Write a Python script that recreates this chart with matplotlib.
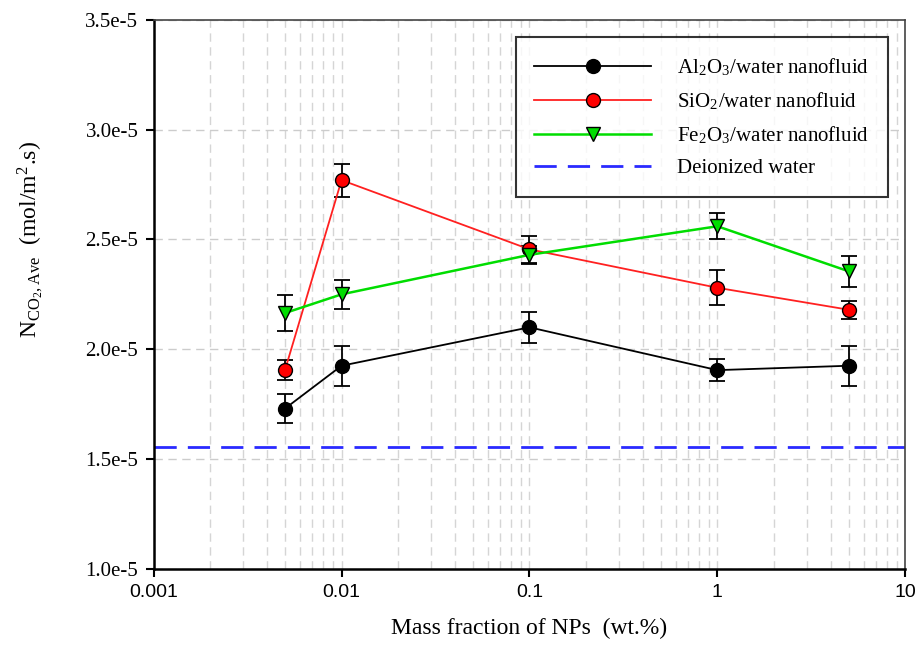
import numpy as np
import matplotlib
matplotlib.use("Agg")
import matplotlib.pyplot as plt
from matplotlib.lines import Line2D
from matplotlib.ticker import FixedLocator, LogLocator, NullFormatter

plt.rcParams['font.family'] = ['Liberation Serif', 'DejaVu Serif']
plt.rcParams['mathtext.fontset'] = 'stix'

mass_frac = [0.005, 0.01, 0.1, 1, 5]

al2o3 = [1.73e-5, 1.925e-5, 2.10e-5, 1.905e-5, 1.925e-5]
al2o3_err = [0.065e-5, 0.09e-5, 0.07e-5, 0.05e-5, 0.09e-5]

sio2 = [1.905e-5, 2.77e-5, 2.455e-5, 2.28e-5, 2.18e-5]
sio2_err = [0.045e-5, 0.075e-5, 0.06e-5, 0.08e-5, 0.04e-5]

fe2o3 = [2.165e-5, 2.25e-5, 2.43e-5, 2.56e-5, 2.355e-5]
fe2o3_err = [0.08e-5, 0.065e-5, 0.04e-5, 0.06e-5, 0.07e-5]

water = 1.556e-5

labels = [r'Al$_\mathregular{2}$O$_\mathregular{3}$/water nanofluid',
          r'SiO$_\mathregular{2}$/water nanofluid',
          r'Fe$_\mathregular{2}$O$_\mathregular{3}$/water nanofluid',
          'Deionized water']

fig = plt.figure(figsize=(9.2, 6.6), dpi=100)
ax = fig.add_axes([0.167, 0.138, 0.817, 0.832])

ax.errorbar(mass_frac, al2o3, yerr=al2o3_err, color='black', lw=1.3, marker='o',
            ms=10, mfc='black', mec='black', ecolor='black', capsize=6, elinewidth=1.3,
            capthick=1.3, zorder=3)
ax.errorbar(mass_frac, sio2, yerr=sio2_err, color='#ff2020', lw=1.3, marker='o',
            ms=10, mfc='#ff0000', mec='black', ecolor='black', capsize=6, elinewidth=1.3,
            capthick=1.3, zorder=3)
ax.errorbar(mass_frac, fe2o3, yerr=fe2o3_err, color='#00dd00', lw=1.8, marker='v',
            ms=10, mfc='#00dd00', mec='black', ecolor='black', capsize=6, elinewidth=1.3,
            capthick=1.3, zorder=3)
ax.axhline(water, color='#2a2aff', lw=2, dashes=(8, 4), zorder=2)

ax.set_xscale('log')
ax.set_xlim(0.001, 10)
ax.set_ylim(1.0e-5, 3.5e-5)

yt = [1.0e-5, 1.5e-5, 2.0e-5, 2.5e-5, 3.0e-5, 3.5e-5]
ax.yaxis.set_major_locator(FixedLocator(yt))
ax.set_yticklabels(['%.1fe-5' % (v * 1e5) for v in yt], fontsize=15)
ax.set_xticks([0.001, 0.01, 0.1, 1, 10])
ax.set_xticklabels(['0.001', '0.01', '0.1', '1', '10'], family='Liberation Sans', fontsize=14)
ax.xaxis.set_minor_locator(LogLocator(base=10, subs=np.arange(2, 10)))
ax.xaxis.set_minor_formatter(NullFormatter())

ax.grid(True, which='major', axis='y', color='#cccccc', ls=(0, (6, 4)), lw=1)
ax.grid(True, which='both', axis='x', color='#d5d5d5', ls=(0, (6, 4)), lw=1)
ax.set_axisbelow(True)

ax.tick_params(axis='both', which='major', direction='out', length=6, width=1.5, pad=5)
ax.tick_params(axis='x', which='minor', length=0)
for s in ['left', 'bottom']:
    ax.spines[s].set_linewidth(1.8)
for s in ['top', 'right']:
    ax.spines[s].set_linewidth(1.2)
    ax.spines[s].set_color('#444444')

ax.set_xlabel('Mass fraction of NPs  (wt.%)', fontsize=17, labelpad=12)
ax.set_ylabel(r'N$_{\mathregular{CO_2,Ave}}$  (mol/m$^\mathregular{2}$.s)', fontsize=17)
ax.yaxis.set_label_coords(-0.145, 0.6)

handles = [
    Line2D([], [], color='black', lw=1.3, marker='o', ms=10, mfc='black', mec='black'),
    Line2D([], [], color='#ff2020', lw=1.3, marker='o', ms=10, mfc='#ff0000', mec='black'),
    Line2D([], [], color='#00dd00', lw=1.8, marker='v', ms=10, mfc='#00dd00', mec='black'),
    Line2D([], [], color='#2a2aff', lw=2, dashes=(8, 4)),
]
leg = ax.legend(handles, labels, loc='upper right', bbox_to_anchor=(0.977, 0.968), fontsize=15,
                frameon=True, fancybox=False, edgecolor='black', handlelength=5.6,
                borderpad=0.9, labelspacing=0.6, handletextpad=1.25, borderaxespad=0)
leg.get_frame().set_linewidth(1.5)

fig.savefig('out.png', dpi=100)
